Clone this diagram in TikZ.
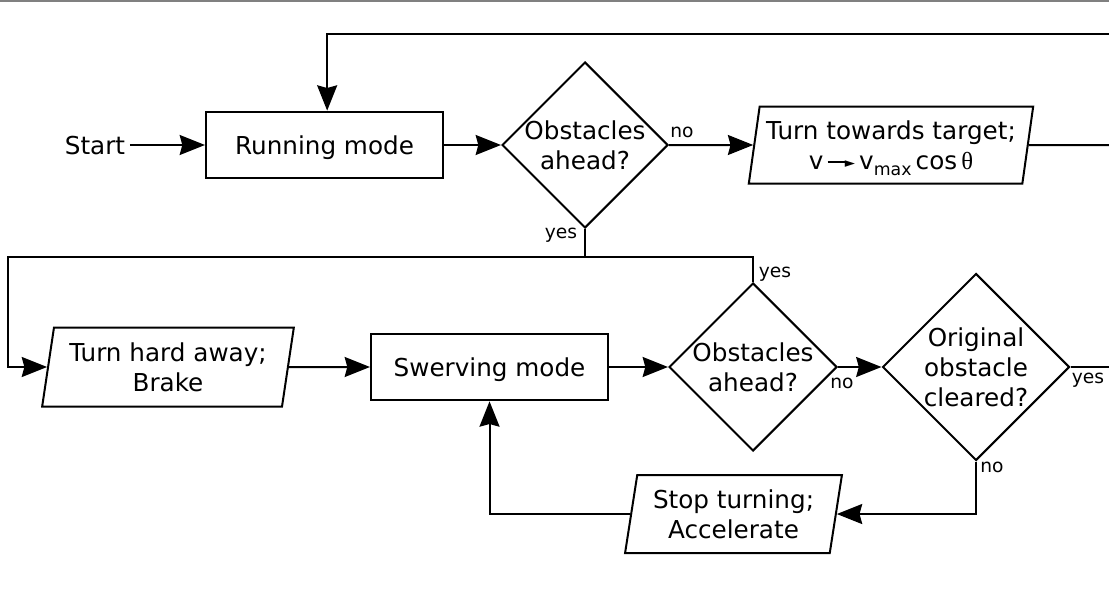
\documentclass[tikz,border=0pt]{standalone}
\usepackage{fontspec}
\setmainfont{DejaVu Sans}
\newfontfamily\thetafont{Liberation Serif}
\usetikzlibrary{shapes.geometric,arrows.meta}
\begin{document}
\begin{tikzpicture}[x=0.75pt,y=-0.75pt,
  every node/.style={font=\fontsize{18.5}{22.5}\selectfont, text depth=0pt},
  base/.style={draw, line width=1.5pt, inner sep=0pt, align=center},
  proc/.style={base, rectangle, minimum width=177.75pt, minimum height=50pt},
  io/.style={base, trapezium, trapezium left angle=79, trapezium right angle=101,
             trapezium stretches=true, inner sep=2pt},
  dec/.style={base, diamond, minimum width=#1, minimum height=#1},
  lbl/.style={font=\fontsize{14}{16}\selectfont, inner sep=0pt},
  ln/.style={line width=1.5pt},
  arr/.style={ln, -{Stealth[length=19pt,width=15pt,inset=2pt]}}
]
\useasboundingbox (0,0) rectangle (1109,589);
\clip (0,0) rectangle (1109,589);
\draw[gray, line width=1.5pt] (0,1) -- (1109,1);

\node (start) at (95,145) {Start};
\node[proc] (run) at (324.5,145) {Running mode};
\node[dec=124.5pt, label={[align=center]center:Obstacles\\ahead?}] (d1) at (585,145) {};
\node[io, minimum width=213.75pt, minimum height=57.75pt] (tt) at (891,145)
  {Turn towards target;\\ v\,\rule[0.27em]{0.8em}{0.08em}\kern-0.1em\raisebox{1.6pt}{\fontsize{10}{10}\selectfont ►}\,v\raisebox{-0.25em}{\fontsize{13}{13}\selectfont max}\,cos\,{\thetafont θ}};
\node[io, minimum width=189pt, minimum height=59.25pt] (th) at (168,367) {Turn hard away;\\Brake};
\node[proc] (sw) at (489.5,367) {Swerving mode};
\node[dec=126pt, label={[align=center]center:Obstacles\\ahead?}] (d2) at (753,367) {};
\node[dec=140.25pt, label={[align=center]center:Original\\obstacle\\cleared?}] (d3) at (976,367) {};
\node[io, minimum width=162.75pt, minimum height=58.5pt] (st) at (733.5,514) {Stop turning;\\Accelerate};

\node[lbl] (no1) at (682,132) {no};
\node[lbl] (yes1) at (561,233) {yes};
\node[lbl] (yes2) at (775,272) {yes};
\node[lbl] (no2) at (842,383) {no};
\node[lbl] (yes3) at (1088,378) {yes};
\node[lbl] (no3) at (992,467) {no};

\coordinate (loopR) at (1109,34);
\coordinate (ttR) at (1109,145);
\coordinate (yj) at (585,257);
\coordinate (lc) at (8,257);
\coordinate (d3R) at (1109,367);

\draw[arr] (start) -- (run);
\draw[arr] (run) -- (d1);
\draw[arr] (d1) -- (tt);
\draw[ln] (tt) -- (ttR);
\draw[arr] (loopR) -| ([xshift=2pt]run.north);
\draw[ln] (d1.south) -- (yj);
\draw[arr] (yj) -- (lc) |- (th.west);
\draw[ln] (yj) -| (d2.north);
\draw[arr] (th) -- (sw);
\draw[arr] (sw) -- (d2);
\draw[arr] (d2) -- (d3);
\draw[ln] (d3) -- (d3R);
\draw[arr] (d3.south) |- (st.east);
\draw[arr] (st.west) -| (sw.south);
\end{tikzpicture}
\end{document}
